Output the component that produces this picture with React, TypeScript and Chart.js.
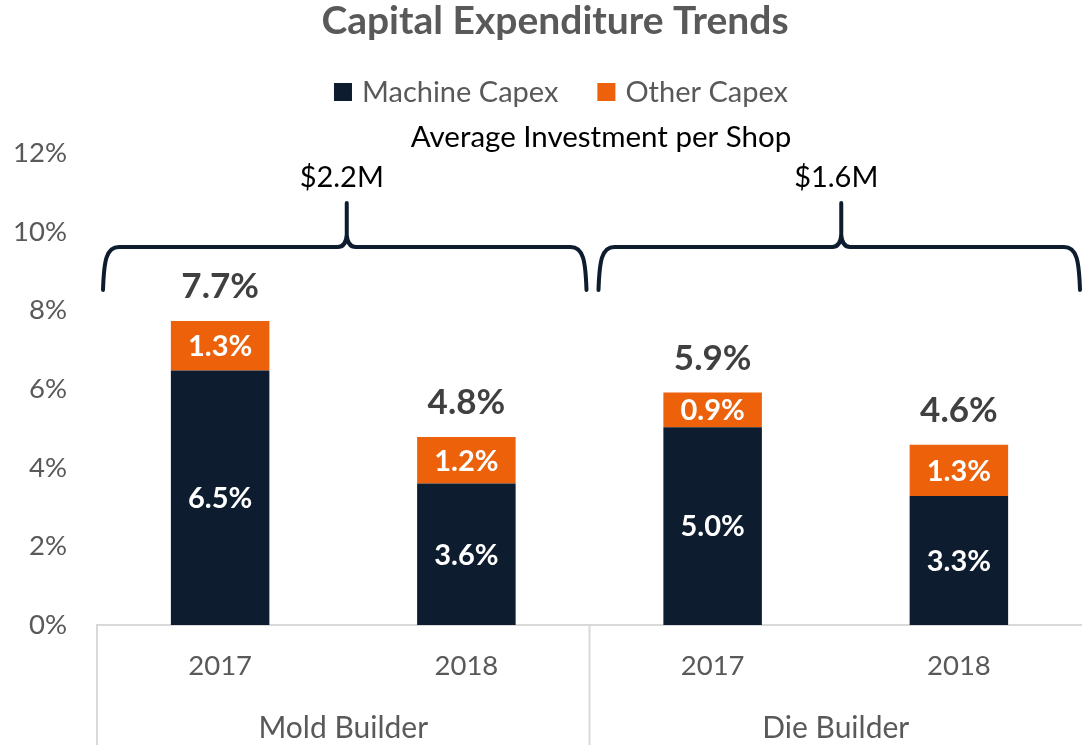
import React, { useEffect, useRef } from "react";
import { Chart, registerables } from "chart.js";

Chart.register(...registerables);

// ---- data ----
const years = ["2017", "2018", "2017", "2018"];
const groups = ["Mold Builder", "Die Builder"];
const groupInvestment = ["$2.2M", "$1.6M"];
const machineCapex = [6.47, 3.6, 5.03, 3.28];
const otherCapex = [1.26, 1.18, 0.88, 1.3];
const seriesNames = ["Machine Capex", "Other Capex"];
const titleText = "Capital Expenditure Trends";
const subtitleText = "Average Investment per Shop";

const NAVY = "#0E1C2F";
const ORANGE = "#EC610A";
const GRAY = "#595959";
const FONT = "Lato, 'Open Sans', sans-serif";

const overlay = {
  id: "overlay",
  afterDraw(chart: any) {
    const { ctx, chartArea, scales } = chart;
    const x = scales.x;
    const y = scales.y;
    ctx.save();
    ctx.textAlign = "center";
    ctx.textBaseline = "middle";

    // title
    ctx.fillStyle = GRAY;
    ctx.font = `bold 39px ${FONT}`;
    ctx.fillText(titleText, 555, 21);

    // legend
    ctx.font = `29px ${FONT}`;
    const box = 18;
    const gap = 10;
    const itemGap = 39;
    const widths = seriesNames.map((n) => box + gap + ctx.measureText(n).width);
    const total = widths.reduce((a, b) => a + b, 0) + itemGap * (widths.length - 1);
    let lx = 561 - total / 2;
    const ly = 92;
    chart.data.datasets.forEach((ds: any, i: number) => {
      ctx.fillStyle = ds.backgroundColor;
      ctx.fillRect(lx, ly - box / 2, box, box);
      ctx.fillStyle = GRAY;
      ctx.textAlign = "left";
      ctx.fillText(seriesNames[i], lx + box + gap, ly + 1);
      lx += widths[i] + itemGap;
    });

    // subtitle
    ctx.textAlign = "center";
    ctx.fillStyle = "#000";
    ctx.font = `29.5px ${FONT}`;
    ctx.fillText(subtitleText, 601, 137);

    // segment labels
    ctx.font = `bold 29px ${FONT}`;
    ctx.fillStyle = "#FFFFFF";
    chart.data.datasets.forEach((ds: any, di: number) => {
      const meta = chart.getDatasetMeta(di);
      meta.data.forEach((bar: any, i: number) => {
        const v = ds.data[i] as number;
        ctx.fillText(v.toFixed(1) + "%", bar.x, (bar.y + bar.base) / 2 + 1);
      });
    });

    // totals
    ctx.font = `bold 35px ${FONT}`;
    ctx.fillStyle = "#404040";
    const topMeta = chart.getDatasetMeta(chart.data.datasets.length - 1);
    topMeta.data.forEach((bar: any, i: number) => {
      const t = machineCapex[i] + otherCapex[i];
      ctx.fillText(t.toFixed(1) + "%", bar.x, bar.y - 34);
    });

    // group separators below axis
    const xs = (x.getPixelForValue(1) + x.getPixelForValue(2)) / 2;
    ctx.strokeStyle = "#D9D9D9";
    ctx.lineWidth = 2;
    [x.left, xs].forEach((px: number) => {
      ctx.beginPath();
      ctx.moveTo(px, chartArea.bottom);
      ctx.lineTo(px, chart.height);
      ctx.stroke();
    });

    // braces
    const yb = y.getPixelForValue(8.52);
    const yh = y.getPixelForValue(9.61);
    const yp = y.getPixelForValue(10.73);
    const yt = y.getPixelForValue(11.37);
    ctx.strokeStyle = NAVY;
    ctx.lineWidth = 4;
    ctx.lineCap = "round";
    ctx.lineJoin = "round";
    groups.forEach((_g, g) => {
      const gl = g === 0 ? x.left : xs;
      const gr = g === 0 ? xs : x.right;
      const x0 = gl + (g === 0 ? 6 : 9);
      const x1 = gr - (g === 0 ? 3 : 2);
      const xm = (x0 + x1) / 2 + 2;
      ctx.beginPath();
      ctx.moveTo(x0, yb);
      ctx.bezierCurveTo(x0 + 1, yh + 14, x0 + 3, yh, x0 + 16, yh);
      ctx.lineTo(xm - 9, yh);
      ctx.quadraticCurveTo(xm - 1, yh, xm, yh - 12);
      ctx.lineTo(xm, yp);
      ctx.moveTo(xm, yh - 12);
      ctx.quadraticCurveTo(xm + 1, yh, xm + 9, yh);
      ctx.lineTo(x1 - 16, yh);
      ctx.bezierCurveTo(x1 - 3, yh, x1 - 1, yh + 14, x1, yb);
      ctx.stroke();

      ctx.fillStyle = "#000";
      ctx.font = `29px ${FONT}`;
      ctx.fillText(groupInvestment[g], xm - 5, yt);
    });

    ctx.restore();
  },
};

export default function App() {
  const ref = useRef<HTMLCanvasElement | null>(null);

  useEffect(() => {
    document.body.style.margin = "0";
    const canvas = ref.current;
    if (!canvas) return;
    const chart = new Chart(canvas, {
      type: "bar",
      data: {
        labels: years,
        datasets: [
          {
            label: seriesNames[0],
            data: machineCapex,
            backgroundColor: NAVY,
            barPercentage: 0.4,
            categoryPercentage: 1,
          },
          {
            label: seriesNames[1],
            data: otherCapex,
            backgroundColor: ORANGE,
            barPercentage: 0.4,
            categoryPercentage: 1,
          },
        ],
      },
      options: {
        animation: false,
        responsive: false,
        devicePixelRatio: 1,
        layout: { padding: { top: 153, left: 0, right: 0, bottom: 0 } },
        plugins: {
          legend: { display: false },
          title: { display: false },
          tooltip: { enabled: false },
        },
        scales: {
          x: {
            type: "category",
            stacked: true,
            offset: true,
            grid: { display: false, drawTicks: false },
            border: { display: true, color: "#D9D9D9", width: 2 },
            ticks: { color: GRAY, font: { family: FONT, size: 27.5 }, padding: 25 },
            afterFit: (s: any) => {
              s.height = 54;
            },
          },
          x2: {
            type: "category",
            position: "bottom",
            labels: groups,
            offset: true,
            weight: 1,
            grid: { display: false, drawTicks: false },
            border: { display: false },
            ticks: { color: GRAY, font: { family: FONT, size: 30 }, padding: 31 },
            afterFit: (s: any) => {
              s.height = 66;
            },
          },
          y: {
            stacked: true,
            min: 0,
            max: 12,
            grid: { display: false, drawTicks: false },
            border: { display: false },
            ticks: {
              stepSize: 2,
              color: GRAY,
              padding: 30,
              font: { family: FONT, size: 27.5 },
              callback: (v: any) => v + "%",
            },
            afterFit: (s: any) => {
              s.width = 97;
            },
          },
        },
      },
      plugins: [overlay],
    });
    return () => chart.destroy();
  }, []);

  return (
    <div style={{ width: 1082, height: 745 }}>
      <canvas ref={ref} width={1082} height={745} style={{ display: "block" }} />
    </div>
  );
}
